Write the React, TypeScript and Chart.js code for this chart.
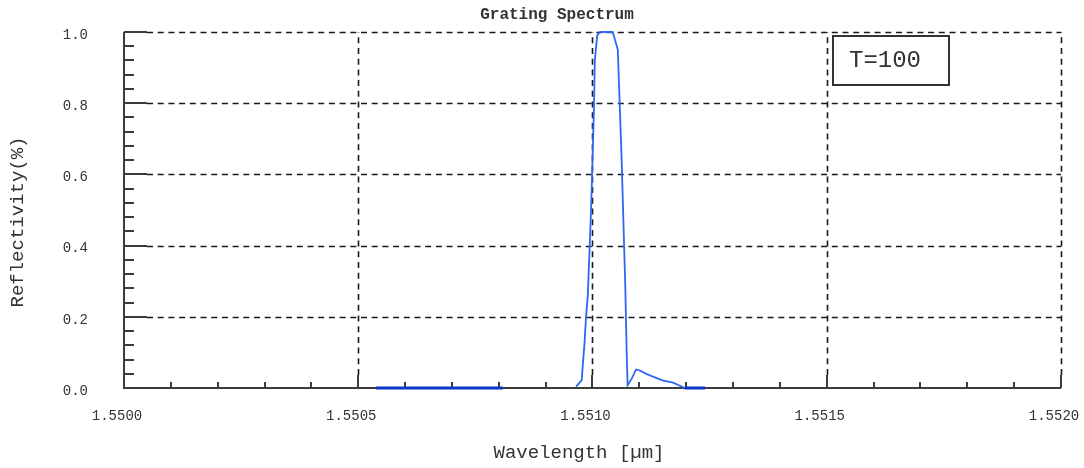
import { useEffect, useRef } from "react";
import { Chart, registerables } from "chart.js";

Chart.register(...registerables);

// Axis ticks
const X_TICKS = [1.55, 1.5505, 1.551, 1.5515, 1.552];
const X_TICK_LABELS = ["1.5500", "1.5505", "1.5510", "1.5515", "1.5520"];
const Y_TICKS = [0, 0.2, 0.4, 0.6, 0.8, 1.0];
const Y_TICK_LABELS = ["0.0", "0.2", "0.4", "0.6", "0.8", "1.0"];

// Reflection spectrum (null = no sample)
const WAVELENGTH = [
  1.550538, 1.550809, 1.5509,
  1.550965, 1.550977, 1.550979, 1.550983, 1.550986, 1.55099, 1.550993,
  1.550997, 1.5510, 1.551003, 1.551005, 1.55101, 1.551016, 1.551043,
  1.551048, 1.551054, 1.551057, 1.551062, 1.551066, 1.55107, 1.551073,
  1.551075, 1.551084, 1.551093, 1.551101, 1.551116, 1.551133, 1.551151,
  1.551172, 1.551197, 1.55124,
];
const REFLECTIVITY = [
  0, 0, null,
  0.004, 0.022, 0.06, 0.126, 0.196, 0.261, 0.364,
  0.505, 0.64, 0.78, 0.921, 0.99, 1.0, 1.0,
  0.978, 0.95, 0.837, 0.65, 0.467, 0.284, 0.097,
  0.008, 0.027, 0.052, 0.049, 0.039, 0.03, 0.021,
  0.015, 0, 0,
];

const TITLE = "Grating Spectrum";
const X_TITLE = "Wavelength [\u00b5m]";
const Y_TITLE = "Reflectivity(%)";
const ANNOTATION = "T=100";

const FONT = "'Liberation Mono', 'DejaVu Sans Mono', monospace";
const INK = "#333333";

const framePlugin = {
  id: "frame",
  beforeDatasetsDraw(chart: any) {
    const { ctx, chartArea, scales } = chart;
    const { left, right, top, bottom } = chartArea;
    const xs = scales.x;
    const ys = scales.y;
    ctx.save();

    // dashed grid on major ticks
    ctx.strokeStyle = "#1a1a1a";
    ctx.lineWidth = 1.6;
    ctx.setLineDash([6, 4.7]);
    Y_TICKS.slice(1).forEach((v) => {
      const py = Math.round(ys.getPixelForValue(v)) + 0.5;
      ctx.beginPath();
      ctx.moveTo(left + 23, py);
      ctx.lineTo(right, py);
      ctx.stroke();
    });
    X_TICKS.slice(1).forEach((v) => {
      const px = Math.round(xs.getPixelForValue(v)) + 0.5;
      ctx.beginPath();
      ctx.moveTo(px, bottom - 13);
      ctx.lineTo(px, top);
      ctx.stroke();
    });

    // solid axes and tick marks
    ctx.setLineDash([]);
    ctx.strokeStyle = "#3c3c3c";
    ctx.lineWidth = 2;
    ctx.beginPath();
    ctx.moveTo(left, top);
    ctx.lineTo(left, bottom);
    ctx.lineTo(right, bottom);
    ctx.stroke();

    const yStep = Y_TICKS[1] - Y_TICKS[0];
    for (let i = 0; i < Y_TICKS.length; i++) {
      const v = Y_TICKS[i];
      const py = Math.round(ys.getPixelForValue(v));
      ctx.beginPath();
      ctx.moveTo(left, py);
      ctx.lineTo(left + 23, py);
      ctx.stroke();
      if (i < Y_TICKS.length - 1) {
        for (let k = 1; k < 5; k++) {
          const my = Math.round(ys.getPixelForValue(v + (yStep * k) / 5));
          ctx.beginPath();
          ctx.moveTo(left, my);
          ctx.lineTo(left + 10, my);
          ctx.stroke();
        }
      }
    }
    const xStep = X_TICKS[1] - X_TICKS[0];
    for (let i = 0; i < X_TICKS.length; i++) {
      const v = X_TICKS[i];
      const px = Math.round(xs.getPixelForValue(v));
      ctx.beginPath();
      ctx.moveTo(px, bottom);
      ctx.lineTo(px, bottom - 13);
      ctx.stroke();
      if (i < X_TICKS.length - 1) {
        for (let k = 1; k < 5; k++) {
          const mx = Math.round(xs.getPixelForValue(v + (xStep * k) / 5));
          ctx.beginPath();
          ctx.moveTo(mx, bottom);
          ctx.lineTo(mx, bottom - 6);
          ctx.stroke();
        }
      }
    }
    ctx.restore();
  },
  afterDraw(chart: any) {
    const { ctx, chartArea } = chart;
    const { right, top } = chartArea;
    ctx.save();
    ctx.fillStyle = INK;
    ctx.textBaseline = "middle";
    ctx.textAlign = "center";

    // title
    ctx.font = `bold 16px ${FONT}`;
    ctx.fillText(TITLE, 557, 15);

    // axis titles
    ctx.font = `19px ${FONT}`;
    ctx.fillText(X_TITLE, 579, 453);
    ctx.save();
    ctx.translate(18, 222);
    ctx.rotate(-Math.PI / 2);
    ctx.fillText(Y_TITLE, 0, 0);
    ctx.restore();

    // annotation box
    const bx = right - 228;
    const by = top + 4;
    ctx.fillStyle = "#ffffff";
    ctx.fillRect(bx, by, 116, 49);
    ctx.strokeStyle = "#333333";
    ctx.lineWidth = 2;
    ctx.strokeRect(bx, by, 116, 49);
    ctx.fillStyle = INK;
    ctx.textAlign = "left";
    ctx.font = `24px ${FONT}`;
    ctx.fillText(ANNOTATION, bx + 16, by + 25);
    ctx.restore();
  },
};

export default function App() {
  const ref = useRef<HTMLCanvasElement | null>(null);

  useEffect(() => {
    if (!ref.current) return;
    Chart.defaults.font.family = FONT;
    const points = WAVELENGTH.map((x, i) => ({ x, y: REFLECTIVITY[i] }));
    const isFlat = (c: any) => c.p0.parsed.y === 0 && c.p1.parsed.y === 0;

    const chart = new Chart(ref.current, {
      type: "line",
      data: {
        datasets: [
          {
            data: points as any,
            borderColor: "#2f66f2",
            borderWidth: 1.8,
            pointRadius: 0,
            tension: 0,
            spanGaps: false,
            clip: false as any,
            segment: {
              borderColor: (c: any) => (isFlat(c) ? "#0b34c8" : undefined),
              borderWidth: (c: any) => (isFlat(c) ? 3 : undefined),
            },
          },
        ],
      },
      options: {
        animation: false,
        responsive: true,
        maintainAspectRatio: false,
        layout: { padding: { top: 32, right: 23, left: 0, bottom: 0 } },
        plugins: {
          legend: { display: false },
          tooltip: { enabled: false },
          title: { display: false },
        },
        scales: {
          x: {
            type: "linear",
            min: X_TICKS[0],
            max: X_TICKS[X_TICKS.length - 1],
            grid: { display: false, drawTicks: false },
            border: { display: false },
            afterBuildTicks: (s: any) => {
              s.ticks = X_TICKS.map((value) => ({ value }));
            },
            afterFit: (s: any) => {
              s.height = 80;
              s.paddingLeft = 0;
              s.paddingRight = 0;
            },
            ticks: {
              autoSkip: false,
              maxRotation: 0,
              padding: 20,
              labelOffset: -7,
              color: INK,
              font: { size: 14, family: FONT },
              callback: (_v: any, i: number) => X_TICK_LABELS[i],
            },
          },
          y: {
            type: "linear",
            min: Y_TICKS[0],
            max: Y_TICKS[Y_TICKS.length - 1],
            grid: { display: false, drawTicks: false },
            border: { display: false },
            afterBuildTicks: (s: any) => {
              s.ticks = Y_TICKS.map((value) => ({ value }));
            },
            afterFit: (s: any) => {
              s.width = 124;
              s.paddingTop = 0;
              s.paddingBottom = 0;
            },
            ticks: {
              autoSkip: false,
              padding: 36,
              labelOffset: 3,
              color: INK,
              font: { size: 14, family: FONT },
              callback: (_v: any, i: number) => Y_TICK_LABELS[i],
            },
          },
        },
      },
      plugins: [framePlugin],
    });
    return () => chart.destroy();
  }, []);

  return (
    <div
      style={{
        position: "absolute",
        left: 0,
        top: 0,
        width: 1084,
        height: 468,
        background: "#ffffff",
      }}
    >
      <canvas ref={ref} />
    </div>
  );
}
